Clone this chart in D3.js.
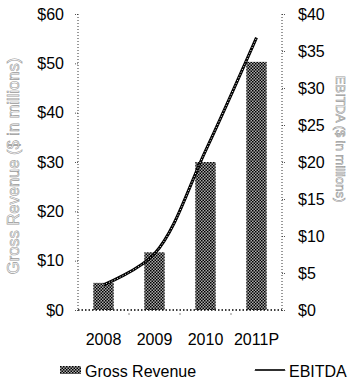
<!DOCTYPE html>
<html><head><meta charset="utf-8">
<script src="https://cdn.jsdelivr.net/npm/d3@7"></script>
<style>html,body{margin:0;padding:0;background:#fff;}svg{display:block;font-family:"Liberation Sans",Arial,sans-serif;}</style>
</head><body>
<svg id="c" width="351" height="389"></svg>
<script>
const categories = ["2008", "2009", "2010", "2011P"];
const revenue = [5.5, 11.7, 30, 50.3];
const ebitda = [3.4, 7.6, 21.5, 36.8];
const leftTicks = [0, 10, 20, 30, 40, 50, 60];
const rightTicks = [0, 5, 10, 15, 20, 25, 30, 35, 40];

const svg = d3.select("#c");
const L = 78, R = 282, T = 14, B = 310;
const x = d3.scaleBand().domain(categories).range([L, R]).paddingInner(0.6).paddingOuter(0.3);
const yL = d3.scaleLinear().domain([0, 60]).range([B, T]);
const yR = d3.scaleLinear().domain([0, 40]).range([B, T]);

const defs = svg.append("defs");
const pat = defs.append("pattern").attr("id", "chk").attr("patternUnits", "userSpaceOnUse")
  .attr("width", 3).attr("height", 3);
pat.append("rect").attr("width", 3).attr("height", 3).attr("fill", "#aaa");
pat.append("rect").attr("x", 0).attr("y", 0).attr("width", 1.5).attr("height", 1.5).attr("fill", "#000");
pat.append("rect").attr("x", 1.5).attr("y", 1.5).attr("width", 1.5).attr("height", 1.5).attr("fill", "#000");

// bars
svg.append("g").selectAll("rect").data(revenue).join("rect")
  .attr("x", (d, i) => x(categories[i]))
  .attr("width", x.bandwidth())
  .attr("y", d => yL(d))
  .attr("height", d => B - yL(d))
  .attr("fill", "url(#chk)");

// axes
const dotted = "1,2";
const gL = svg.append("g").attr("transform", `translate(${L},0)`)
  .call(d3.axisLeft(yL).tickValues(leftTicks).tickFormat(d => "$" + d).tickSize(3).tickPadding(11));
const gR = svg.append("g").attr("transform", `translate(${R},0)`)
  .call(d3.axisRight(yR).tickValues(rightTicks).tickFormat(d => "$" + d).tickSize(3).tickPadding(13));
const gB = svg.append("g").attr("transform", `translate(0,${B})`)
  .call(d3.axisBottom(x).tickSize(0).tickPadding(24));
[gL, gR, gB].forEach(g => {
  g.select(".domain").remove();
  g.selectAll("text").attr("font-size", 16).attr("fill", "#000").attr("font-family", "Liberation Sans, Arial, sans-serif");
  g.selectAll("line").attr("stroke", "#555").attr("stroke-dasharray", "1,1");
});
svg.append("line").attr("x1", L).attr("x2", L).attr("y1", T).attr("y2", B)
  .attr("stroke", "#333").attr("stroke-dasharray", dotted);
svg.append("line").attr("x1", R).attr("x2", R).attr("y1", T).attr("y2", B)
  .attr("stroke", "#333").attr("stroke-dasharray", dotted);
svg.append("line").attr("x1", L).attr("x2", R).attr("y1", B).attr("y2", B)
  .attr("stroke", "#000").attr("stroke-width", 1.5).attr("stroke-dasharray", "1.5,2");
// small category boundary ticks
svg.append("g").selectAll("line").data(categories.slice(1)).join("line")
  .attr("x1", d => x(d) - x.step() * x.paddingInner() / 2)
  .attr("x2", d => x(d) - x.step() * x.paddingInner() / 2)
  .attr("y1", B + 3).attr("y2", B + 5).attr("stroke", "#888");

// EBITDA line
const line = d3.line().x((d, i) => x(categories[i]) + x.bandwidth() / 2).y(d => yR(d)).curve(d3.curveCatmullRom);
svg.append("path").datum(ebitda).attr("d", line).attr("fill", "none").attr("stroke", "#000").attr("stroke-width", 3);
svg.append("path").datum(ebitda).attr("d", line).attr("fill", "none").attr("stroke", "#fff")
  .attr("stroke-width", 1).attr("stroke-dasharray", "1,2");

// axis titles
svg.append("text").attr("transform", "translate(19,166) rotate(-90)")
  .attr("text-anchor", "middle").attr("font-size", 16.5)
  .attr("fill", "#fff").attr("stroke", "#999").attr("stroke-width", 0.6)
  .text("Gross Revenue ($ in millions)");
svg.append("text").attr("transform", "translate(336,139) rotate(90)")
  .attr("text-anchor", "middle").attr("font-size", 13)
  .attr("fill", "#fff").attr("stroke", "#999").attr("stroke-width", 0.6)
  .text("EBITDA ($ in millions)");

// legend
const lg = svg.append("g");
lg.append("rect").attr("x", 60).attr("y", 366).attr("width", 21).attr("height", 8).attr("fill", "url(#chk)");
lg.append("text").attr("x", 85).attr("y", 377).attr("font-size", 16).text("Gross Revenue");
const wave = d3.range(0, 31, 1).map(i => [255 + i, 370 + (i % 2 ? -1 : 1)]);
lg.append("path").attr("d", d3.line()(wave)).attr("fill", "none").attr("stroke", "#000").attr("stroke-width", 1);
lg.append("text").attr("x", 289).attr("y", 377).attr("font-size", 16).text("EBITDA");
</script>
</body></html>
